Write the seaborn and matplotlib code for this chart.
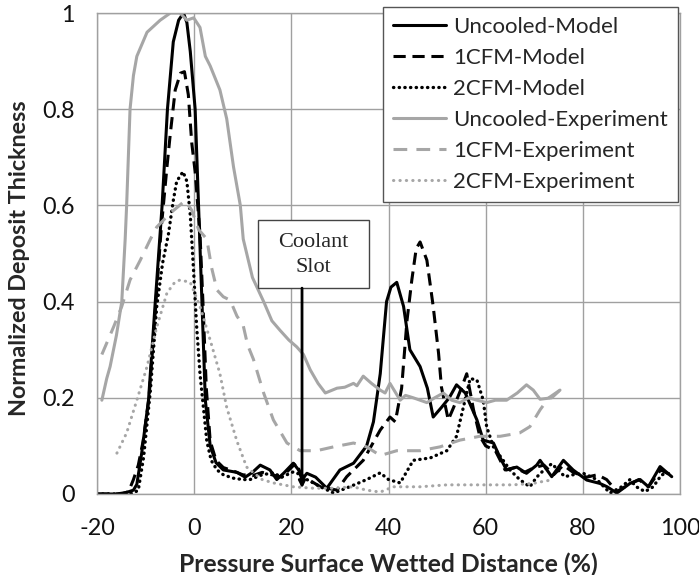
import numpy as np
import pandas as pd
import matplotlib
matplotlib.use("Agg")
import matplotlib.pyplot as plt
from matplotlib.patches import Rectangle
import seaborn as sns

# ---------------- data (x = wetted distance %, y = normalized thickness) ----------------
uncooled_model = [(-20, 0), (-16, 0), (-14, 0.003), (-12.5, 0.008), (-11.8, 0.02), (-10.8, 0.085),
                  (-9.4, 0.195), (-8, 0.40), (-6.6, 0.60), (-5.5, 0.80), (-4.3, 0.94), (-3.2, 0.985),
                  (-2.2, 1.0), (-1.5, 0.98), (-0.8, 0.92), (0.2, 0.80), (0.9, 0.60), (1.6, 0.40),
                  (2.3, 0.195), (3.3, 0.10), (4.5, 0.065), (6, 0.05), (8.8, 0.045), (10.5, 0.035),
                  (12, 0.045), (13.6, 0.06), (15.6, 0.05), (17, 0.03), (18.4, 0.043), (20.4, 0.064),
                  (21.5, 0.05), (22.2, 0.03), (23.2, 0.043), (25, 0.035), (27.3, 0.012), (30, 0.05),
                  (32.8, 0.064), (35.5, 0.10), (36.9, 0.15), (37.6, 0.2), (38.3, 0.25), (39.6, 0.40),
                  (40.5, 0.43), (41.7, 0.44), (43.1, 0.39), (44.4, 0.30), (46.5, 0.265), (48, 0.22),
                  (49.2, 0.16), (50.9, 0.18), (52.5, 0.20), (54, 0.227), (55.8, 0.21), (58.2, 0.154),
                  (59.5, 0.112), (61.6, 0.106), (63, 0.075), (64.3, 0.05), (66.4, 0.056), (68.4, 0.043),
                  (70.5, 0.06), (71.2, 0.07), (73.6, 0.036), (76, 0.07), (78, 0.05), (80.8, 0.029),
                  (83.5, 0.022), (85, 0.015), (87, 0.002), (89.7, 0.022), (91.8, 0.03), (93.5, 0.015),
                  (95.9, 0.057), (98.3, 0.036)]

cfm1_model = [(-20, 0), (-15, 0), (-13.5, 0.005), (-12.5, 0.03), (-11.5, 0.06), (-10.5, 0.11),
              (-9.3, 0.2), (-8, 0.38), (-6.8, 0.55), (-5.6, 0.68), (-4.9, 0.75), (-3.9, 0.84),
              (-2.8, 0.875), (-2, 0.878), (-1.2, 0.83), (-0.5, 0.73), (0.2, 0.67), (1.2, 0.54),
              (1.8, 0.40), (2.5, 0.22), (3.3, 0.11), (4.5, 0.07), (6, 0.055), (8, 0.048), (10, 0.04),
              (12, 0.038), (14, 0.045), (16, 0.04), (18, 0.035), (20, 0.055), (21, 0.065), (22, 0.04),
              (23.5, 0.03), (26, 0.015), (29.4, 0.008), (31.4, 0.036), (34.8, 0.07), (38.3, 0.133),
              (40.3, 0.16), (41.4, 0.15), (42.7, 0.22), (43.8, 0.36), (44.8, 0.445), (45.7, 0.51),
              (46.5, 0.524), (47.9, 0.486), (49.2, 0.39), (50.3, 0.293), (50.9, 0.222), (52.3, 0.154),
              (53.4, 0.18), (55, 0.22), (56.1, 0.25), (57.5, 0.175), (58.8, 0.12), (60, 0.1),
              (62, 0.09), (64, 0.05), (66, 0.055), (68, 0.045), (70, 0.055), (72, 0.06), (74, 0.04),
              (76, 0.06), (78, 0.045), (80.8, 0.035), (83, 0.04), (84.9, 0.03), (87, 0.005),
              (89.5, 0.02), (91.5, 0.03), (93.5, 0.015), (96, 0.05), (98, 0.04)]

cfm2_model = [(-20, 0), (-14, 0), (-12.5, 0.002), (-11.5, 0.008), (-10.4, 0.077), (-9, 0.216),
              (-7.7, 0.39), (-6.5, 0.48), (-5.3, 0.54), (-4.3, 0.61), (-3.6, 0.65), (-2.3, 0.67),
              (-1.5, 0.65), (-0.8, 0.58), (-0.1, 0.46), (0.5, 0.35), (1.2, 0.25), (2.6, 0.11),
              (3.5, 0.07), (4.7, 0.05), (6, 0.04), (8, 0.033), (10, 0.03), (11.5, 0.03), (14, 0.04),
              (16.3, 0.044), (18, 0.035), (20.4, 0.046), (22, 0.04), (23.2, 0.03), (26, 0.015),
              (28.7, 0.002), (32, 0.015), (35.5, 0.03), (38.3, 0.044), (40, 0.03), (42.4, 0.023),
              (45.1, 0.07), (48.6, 0.075), (52, 0.09), (54, 0.12), (55.4, 0.18), (56.8, 0.24),
              (58.2, 0.237), (59.5, 0.195), (60.2, 0.14), (61.6, 0.098), (63.6, 0.07), (65, 0.05),
              (67, 0.03), (69.1, 0.015), (70.5, 0.035), (72, 0.05), (73.6, 0.063), (76.3, 0.036),
              (78, 0.04), (80.1, 0.043), (82.9, 0.03), (85.6, 0.002), (88, 0.015), (89.7, 0.03),
              (91, 0.015), (92.8, 0.005), (94.5, 0.015), (96.2, 0.04), (97.9, 0.043)]

uncooled_exp = [(-19, 0.195), (-18, 0.24), (-17.3, 0.265), (-16, 0.33), (-14.9, 0.40), (-14.2, 0.53),
                (-13.9, 0.6), (-13.2, 0.80), (-12.5, 0.87), (-11.8, 0.91), (-9.7, 0.96), (-7, 0.985),
                (-4.9, 1.0), (-2.9, 1.0), (-1.5, 0.985), (-0.1, 0.99), (1.2, 0.97), (2.3, 0.91),
                (3.3, 0.89), (5.3, 0.84), (6.7, 0.78), (8.1, 0.68), (9.5, 0.60), (10.1, 0.53),
                (12, 0.45), (14.3, 0.40), (16, 0.36), (17.7, 0.34), (19.5, 0.32), (21.1, 0.306),
                (22.5, 0.29), (23.9, 0.258), (25.5, 0.23), (27, 0.21), (29.4, 0.22), (31, 0.222),
                (32.8, 0.23), (33.5, 0.225), (34.8, 0.245), (36.5, 0.23), (38.3, 0.216), (39.3, 0.21),
                (40.3, 0.23), (42.4, 0.195), (43.5, 0.205), (45.1, 0.2), (47.9, 0.19), (49.5, 0.2),
                (51.3, 0.21), (53, 0.195), (54.7, 0.19), (56.5, 0.2), (58.2, 0.195), (60.2, 0.19),
                (62, 0.195), (64.3, 0.195), (66.5, 0.21), (68.4, 0.227), (69.8, 0.216), (71.2, 0.197),
                (73.6, 0.2), (75.3, 0.216)]

cfm1_exp = [(-19, 0.29), (-16.6, 0.347), (-14.9, 0.39), (-13.2, 0.445), (-11.1, 0.486), (-9, 0.53),
            (-7.7, 0.555), (-4.9, 0.584), (-3, 0.6), (-1.9, 0.61), (-0.5, 0.59), (0.9, 0.55),
            (2.6, 0.53), (3.6, 0.47), (4.7, 0.424), (6, 0.41), (7.4, 0.403), (8.8, 0.37),
            (10.1, 0.35), (11, 0.31), (12.2, 0.28), (14.3, 0.21), (16.3, 0.154), (19.1, 0.106),
            (21.8, 0.09), (25.2, 0.09), (28.7, 0.098), (32.8, 0.106), (35.5, 0.098), (38.3, 0.08),
            (41.7, 0.09), (46.5, 0.09), (50.6, 0.098), (54.7, 0.112), (58.8, 0.12), (63, 0.12),
            (67, 0.127), (69.1, 0.14), (71.2, 0.175), (73, 0.2), (75.3, 0.216)]

cfm2_exp = [(-15.9, 0.085), (-13.9, 0.127), (-11.8, 0.195), (-9.7, 0.265), (-7.7, 0.347),
            (-5.6, 0.418), (-4, 0.44), (-2.9, 0.445), (-0.8, 0.44), (1.2, 0.39), (3.3, 0.32),
            (5.3, 0.25), (6.7, 0.18), (8.8, 0.11), (10.8, 0.056), (11.5, 0.05), (14, 0.03),
            (16.3, 0.023), (20.4, 0.015), (24.5, 0.012), (28.6, 0.012), (32.7, 0.015), (35.5, 0.008),
            (38.3, 0.004), (41, 0.015), (46.5, 0.015), (52, 0.019), (58.8, 0.019), (65.6, 0.019),
            (69.8, 0.022), (71.2, 0.025), (74, 0.03)]

series_names = ["Uncooled-Model", "1CFM-Model", "2CFM-Model",
                "Uncooled-Experiment", "1CFM-Experiment", "2CFM-Experiment"]
series_data = [uncooled_model, cfm1_model, cfm2_model, uncooled_exp, cfm1_exp, cfm2_exp]

x_ticks = [-20, 0, 20, 40, 60, 80, 100]
y_ticks = [0, 0.2, 0.4, 0.6, 0.8, 1.0]
y_tick_labels = ["0", "0.2", "0.4", "0.6", "0.8", "1"]

# ---------------- styling ----------------
sns.set_style("white")
plt.rcParams["font.family"] = ["Lato", "DejaVu Sans"]
plt.rcParams["axes.unicode_minus"] = False

BLACK = "#000000"
GRAY = "#A6A6A6"
styles = [
    dict(color=BLACK, ls="-", lw=2.2),
    dict(color=BLACK, ls=(0, (4.0, 2.2)), lw=2.2),
    dict(color=BLACK, ls=(0, (0.1, 1.6)), lw=2.4, dash_capstyle="round"),
    dict(color=GRAY, ls="-", lw=2.2),
    dict(color=GRAY, ls=(0, (4.5, 3.0)), lw=2.2),
    dict(color=GRAY, ls=(0, (0.1, 2.0)), lw=2.2, dash_capstyle="round"),
]

fig = plt.figure(figsize=(6.99, 5.75), dpi=100)
ax = fig.add_axes([97 / 699, 1 - 494 / 575, 583 / 699, 481 / 575])

for name, pts, st in zip(series_names, series_data, styles):
    df = pd.DataFrame(pts, columns=["x", "y"])
    sns.lineplot(data=df, x="x", y="y", ax=ax, estimator=None, sort=False,
                 label=name, color=st["color"], linestyle=st["ls"], linewidth=st["lw"],
                 **({"dash_capstyle": st["dash_capstyle"]} if "dash_capstyle" in st else {}))

ax.set_xlim(-20, 100)
ax.set_ylim(0, 1)
ax.set_xticks(x_ticks)
ax.set_yticks(y_ticks)
ax.set_yticklabels(y_tick_labels)
ax.grid(True, color="#A0A0A0", lw=1.0)
ax.set_axisbelow(True)
for s in ax.spines.values():
    s.set_color("#A0A0A0")
    s.set_linewidth(1.0)
ax.tick_params(axis="both", direction="out", length=4, width=1, color="#A0A0A0",
               labelsize=16.8, labelcolor="#111111")
ax.tick_params(axis="x", pad=13)
ax.tick_params(axis="y", pad=12)

ax.set_xlabel("Pressure Surface Wetted Distance (%)", fontsize=17.8, fontweight="bold")
ax.set_ylabel("Normalized Deposit Thickness", fontsize=16.8, fontweight="bold")
ax.xaxis.set_label_coords(0.5, -0.122)
ax.yaxis.set_label_coords(-0.115, 0.49)

# legend
leg = ax.legend(loc="upper right", bbox_to_anchor=(0.996, 1.0135), fontsize=16,
                frameon=True, fancybox=False, edgecolor="#555555", framealpha=1,
                handlelength=2.4, handletextpad=0.3, labelspacing=0.5,
                borderpad=0.45, borderaxespad=0)
leg.get_frame().set_linewidth(1.0)

# coolant slot annotation
rect = Rectangle((13.2, 0.428), 22.8, 0.142, facecolor="white", edgecolor="#444444",
                 lw=1.0, zorder=5)
ax.add_patch(rect)
ax.text(24.6, 0.497, "Coolant\nSlot", ha="center", va="center", fontsize=16,
        family=["Liberation Serif", "DejaVu Serif"], linespacing=1.4, zorder=6)
ax.annotate("", xy=(22.2, 0.012), xytext=(22.2, 0.428),
            arrowprops=dict(arrowstyle="-|>", color="black", lw=2.0,
                            mutation_scale=10, shrinkA=0, shrinkB=0), zorder=6)

fig.savefig("out.png", dpi=100)
